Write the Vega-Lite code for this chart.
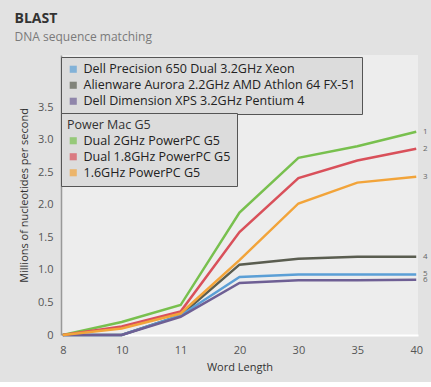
{
  "$schema": "https://vega.github.io/schema/vega-lite/v6.json",
  "width": 357,
  "height": 280,
  "padding": {"left": 14, "top": 12, "right": 12, "bottom": 10},
  "background": "#e2e2e2",
  "title": {
    "text": "BLAST",
    "subtitle": "DNA sequence matching",
    "anchor": "start",
    "frame": "bounds",
    "font": "Open Sans",
    "fontSize": 14,
    "fontWeight": "bold",
    "color": "#333333",
    "subtitleFont": "Open Sans",
    "subtitleFontSize": 12,
    "subtitleColor": "#7a7a7a",
    "subtitlePadding": 6,
    "offset": 12,
    "dx": -4
  },
  "config": {
    "view": {"fill": "#ededed", "stroke": null},
    "font": "Open Sans",
    "legend": {
      "orient": "none",
      "fillColor": "#dcdcdc",
      "strokeColor": "#555555",
      "padding": 6,
      "symbolType": "square",
      "symbolSize": 50,
      "symbolStrokeWidth": 0,
      "labelFontSize": 12.5,
      "labelColor": "#222222",
      "labelFont": "Open Sans",
      "rowPadding": 3,
      "labelLimit": 400
    }
  },
  "data": {
    "values": [
      {"series": "Dual 2GHz PowerPC G5", "maker": "Mac", "id": "1", "word": 8, "value": 0},
      {"series": "Dual 2GHz PowerPC G5", "maker": "Mac", "id": "1", "word": 10, "value": 0.2},
      {"series": "Dual 2GHz PowerPC G5", "maker": "Mac", "id": "1", "word": 11, "value": 0.46},
      {"series": "Dual 2GHz PowerPC G5", "maker": "Mac", "id": "1", "word": 20, "value": 1.88},
      {"series": "Dual 2GHz PowerPC G5", "maker": "Mac", "id": "1", "word": 30, "value": 2.72},
      {"series": "Dual 2GHz PowerPC G5", "maker": "Mac", "id": "1", "word": 35, "value": 2.9},
      {"series": "Dual 2GHz PowerPC G5", "maker": "Mac", "id": "1", "word": 40, "value": 3.12},
      {"series": "Dual 1.8GHz PowerPC G5", "maker": "Mac", "id": "2", "word": 8, "value": 0},
      {"series": "Dual 1.8GHz PowerPC G5", "maker": "Mac", "id": "2", "word": 10, "value": 0.13},
      {"series": "Dual 1.8GHz PowerPC G5", "maker": "Mac", "id": "2", "word": 11, "value": 0.36},
      {"series": "Dual 1.8GHz PowerPC G5", "maker": "Mac", "id": "2", "word": 20, "value": 1.58},
      {"series": "Dual 1.8GHz PowerPC G5", "maker": "Mac", "id": "2", "word": 30, "value": 2.41},
      {"series": "Dual 1.8GHz PowerPC G5", "maker": "Mac", "id": "2", "word": 35, "value": 2.68},
      {"series": "Dual 1.8GHz PowerPC G5", "maker": "Mac", "id": "2", "word": 40, "value": 2.86},
      {"series": "1.6GHz PowerPC G5", "maker": "Mac", "id": "3", "word": 8, "value": 0},
      {"series": "1.6GHz PowerPC G5", "maker": "Mac", "id": "3", "word": 10, "value": 0.1},
      {"series": "1.6GHz PowerPC G5", "maker": "Mac", "id": "3", "word": 11, "value": 0.33},
      {"series": "1.6GHz PowerPC G5", "maker": "Mac", "id": "3", "word": 20, "value": 1.15},
      {"series": "1.6GHz PowerPC G5", "maker": "Mac", "id": "3", "word": 30, "value": 2.02},
      {"series": "1.6GHz PowerPC G5", "maker": "Mac", "id": "3", "word": 35, "value": 2.34},
      {"series": "1.6GHz PowerPC G5", "maker": "Mac", "id": "3", "word": 40, "value": 2.43},
      {"series": "Alienware Aurora 2.2GHz AMD Athlon 64 FX-51", "maker": "PC", "id": "4", "word": 8, "value": 0},
      {"series": "Alienware Aurora 2.2GHz AMD Athlon 64 FX-51", "maker": "PC", "id": "4", "word": 10, "value": 0},
      {"series": "Alienware Aurora 2.2GHz AMD Athlon 64 FX-51", "maker": "PC", "id": "4", "word": 11, "value": 0.3},
      {"series": "Alienware Aurora 2.2GHz AMD Athlon 64 FX-51", "maker": "PC", "id": "4", "word": 20, "value": 1.08},
      {"series": "Alienware Aurora 2.2GHz AMD Athlon 64 FX-51", "maker": "PC", "id": "4", "word": 30, "value": 1.17},
      {"series": "Alienware Aurora 2.2GHz AMD Athlon 64 FX-51", "maker": "PC", "id": "4", "word": 35, "value": 1.2},
      {"series": "Alienware Aurora 2.2GHz AMD Athlon 64 FX-51", "maker": "PC", "id": "4", "word": 40, "value": 1.2},
      {"series": "Dell Precision 650 Dual 3.2GHz Xeon", "maker": "PC", "id": "5", "word": 8, "value": 0},
      {"series": "Dell Precision 650 Dual 3.2GHz Xeon", "maker": "PC", "id": "5", "word": 10, "value": 0},
      {"series": "Dell Precision 650 Dual 3.2GHz Xeon", "maker": "PC", "id": "5", "word": 11, "value": 0.3},
      {"series": "Dell Precision 650 Dual 3.2GHz Xeon", "maker": "PC", "id": "5", "word": 20, "value": 0.89},
      {"series": "Dell Precision 650 Dual 3.2GHz Xeon", "maker": "PC", "id": "5", "word": 30, "value": 0.93},
      {"series": "Dell Precision 650 Dual 3.2GHz Xeon", "maker": "PC", "id": "5", "word": 35, "value": 0.93},
      {"series": "Dell Precision 650 Dual 3.2GHz Xeon", "maker": "PC", "id": "5", "word": 40, "value": 0.93},
      {"series": "Dell Dimension XPS 3.2GHz Pentium 4", "maker": "PC", "id": "6", "word": 8, "value": 0},
      {"series": "Dell Dimension XPS 3.2GHz Pentium 4", "maker": "PC", "id": "6", "word": 10, "value": 0},
      {"series": "Dell Dimension XPS 3.2GHz Pentium 4", "maker": "PC", "id": "6", "word": 11, "value": 0.28},
      {"series": "Dell Dimension XPS 3.2GHz Pentium 4", "maker": "PC", "id": "6", "word": 20, "value": 0.8},
      {"series": "Dell Dimension XPS 3.2GHz Pentium 4", "maker": "PC", "id": "6", "word": 30, "value": 0.84},
      {"series": "Dell Dimension XPS 3.2GHz Pentium 4", "maker": "PC", "id": "6", "word": 35, "value": 0.84},
      {"series": "Dell Dimension XPS 3.2GHz Pentium 4", "maker": "PC", "id": "6", "word": 40, "value": 0.85}
    ]
  },
  "encoding": {
    "x": {
      "field": "word",
      "type": "ordinal",
      "scale": {"type": "point", "padding": 0.03},
      "axis": {
        "title": "Word Length",
        "titleFont": "Open Sans",
        "titleFontSize": 11,
        "titleFontWeight": "normal",
        "titleColor": "#333333",
        "titlePadding": 6,
        "labelAngle": 0,
        "labelFontSize": 11,
        "labelColor": "#555555",
        "labelPadding": 9,
        "ticks": false,
        "domainColor": "#ffffff",
        "domainWidth": 2,
        "grid": false
      }
    },
    "y": {
      "field": "value",
      "type": "quantitative",
      "scale": {"domain": [0, 4.3], "nice": false},
      "axis": {
        "title": "Millions of nucleotides per second",
        "titleFont": "Open Sans",
        "titleFontSize": 11,
        "titleFontWeight": "normal",
        "titleColor": "#333333",
        "titlePadding": 8,
        "values": [0, 0.5, 1, 1.5, 2, 2.5, 3, 3.5],
        "labelExpr": "datum.value == 0 ? '0' : format(datum.value, '.1f')",
        "labelFontSize": 11,
        "labelColor": "#555555",
        "labelPadding": 8,
        "ticks": false,
        "domainColor": "#999999",
        "domainWidth": 1.5,
        "grid": false
      }
    }
  },
  "layer": [
    {
      "transform": [{"filter": "datum.maker == 'PC'"}],
      "mark": {"type": "point", "shape": "square", "filled": true, "size": 0},
      "encoding": {
        "color": {
          "field": "series",
          "type": "nominal",
          "scale": {
            "domain": ["Dell Precision 650 Dual 3.2GHz Xeon", "Alienware Aurora 2.2GHz AMD Athlon 64 FX-51", "Dell Dimension XPS 3.2GHz Pentium 4"],
            "range": ["#5b9fd6", "#5a5d50", "#6e5f94"]
          },
          "legend": {"title": null, "legendX": 0, "legendY": 2}
        }
      }
    },
    {
      "transform": [{"filter": "datum.maker == 'PC'"}],
      "mark": {"type": "line", "strokeWidth": 2.5},
      "encoding": {
        "color": {"field": "series", "type": "nominal", "legend": {"title": null, "legendX": 0, "legendY": 2}}
      }
    },
    {
      "transform": [{"filter": "datum.maker == 'Mac'"}],
      "mark": {"type": "point", "shape": "square", "filled": true, "size": 0},
      "encoding": {
        "fill": {
          "field": "series",
          "type": "nominal",
          "scale": {
            "domain": ["Dual 2GHz PowerPC G5", "Dual 1.8GHz PowerPC G5", "1.6GHz PowerPC G5"],
            "range": ["#78c04e", "#d9505a", "#f2a43a"]
          },
          "legend": {
            "title": "Power Mac G5",
            "titleFontSize": 12.5,
            "titleFontWeight": "normal",
            "titleColor": "#333333",
            "titleFont": "Open Sans",
            "titlePadding": 3,
            "legendX": 0,
            "legendY": 58
          }
        }
      }
    },
    {
      "transform": [{"filter": "datum.maker == 'Mac'"}],
      "mark": {"type": "line", "strokeWidth": 2.5},
      "encoding": {
        "stroke": {
          "field": "series",
          "type": "nominal",
          "scale": {
            "domain": ["Dual 2GHz PowerPC G5", "Dual 1.8GHz PowerPC G5", "1.6GHz PowerPC G5"],
            "range": ["#78c04e", "#d9505a", "#f2a43a"]
          },
          "legend": null
        }
      }
    },
    {
      "transform": [{"filter": "datum.word == 40"}],
      "mark": {"type": "text", "dx": 9, "fontSize": 8, "color": "#666666", "align": "center"},
      "encoding": {"text": {"field": "id"}}
    }
  ]
}
